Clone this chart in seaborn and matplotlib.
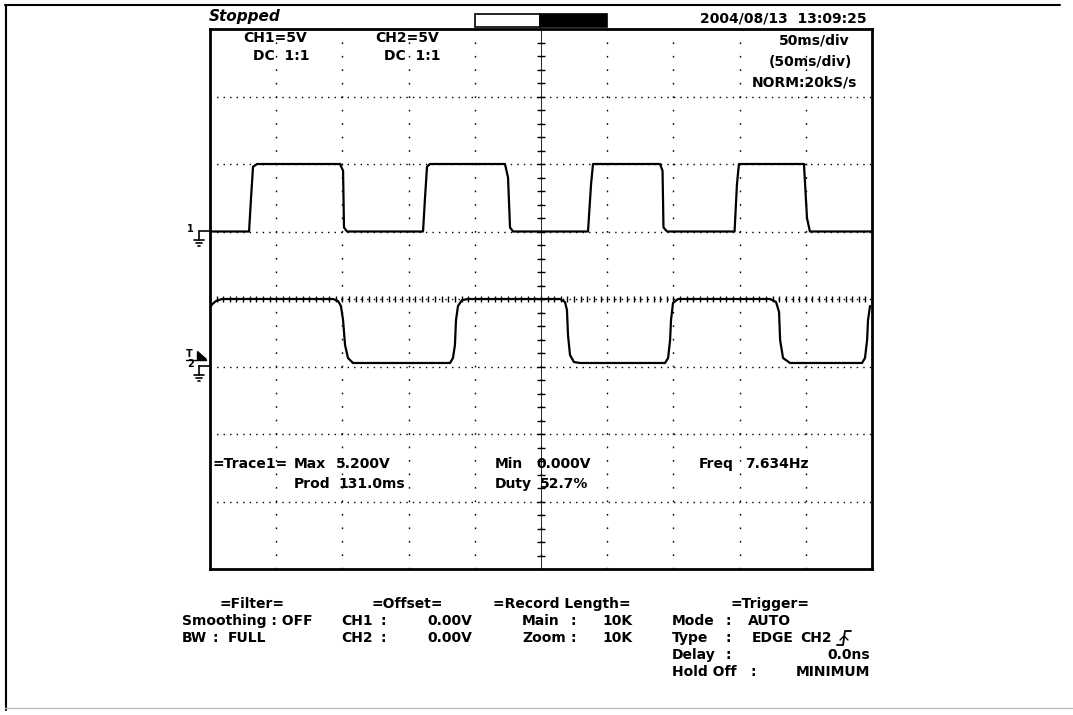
import matplotlib
matplotlib.use("Agg")
import matplotlib.pyplot as plt
from matplotlib.lines import Line2D
from matplotlib.patches import Rectangle, Polygon
import numpy as np
import seaborn as sns

# CH1 trace (time in ms, volts)
ch1_time = [0, 29.5, 31.0, 32.5, 35.5, 98.2, 100.5, 101.2, 103.5,
            160.9, 162.4, 163.9, 166.2, 222.8, 225.1, 226.6, 228.9,
            285.5, 287.8, 289.3, 339.9, 341.8, 342.5, 345.2,
            396.2, 398.0, 399.5, 448.6, 450.9, 453.1, 500]
ch1_volt = [0, 0, 2.5, 4.8, 5.0, 5.0, 4.5, 0.3, 0,
            0, 2.5, 4.8, 5.0, 5.0, 4.0, 0.3, 0,
            0, 3.5, 5.0, 5.0, 4.5, 0.3, 0,
            0, 3.5, 5.0, 5.0, 1.0, 0, 0]

# CH2 trace (slower, rounded edges)
ch2_time = [0, 1.5, 4.5, 9.1, 92.9, 96.7, 98.9, 100.5, 102.0, 104.2, 108.0,
            181.3, 183.5, 185.0, 185.8, 187.3, 190.3, 194.9,
            264.4, 268.1, 269.6, 270.4, 271.9, 274.9, 279.5,
            343.7, 346.0, 347.5, 348.2, 349.7, 353.5,
            423.0, 427.5, 429.8, 430.6, 432.8, 438.1,
            492.5, 494.7, 496.3, 497.0, 498.5]
ch2_volt = [4.33, 4.6, 4.85, 5.0, 5.0, 4.85, 4.48, 3.44, 1.59, 0.63, 0.26,
            0.26, 0.63, 1.59, 3.44, 4.48, 4.92, 5.0,
            5.0, 4.78, 4.19, 2.33, 0.85, 0.33, 0.26,
            0.26, 0.63, 1.96, 3.44, 4.70, 5.0,
            5.0, 4.78, 4.04, 1.96, 0.63, 0.26,
            0.26, 0.63, 1.96, 3.44, 4.48]

# screen texts: (text, x, y) in screen pixels
header_left = [("CH1=5V", 243, 38), ("DC  1:1", 253, 56), ("CH2=5V", 375, 38), ("DC  1:1", 384, 56)]
header_right = [("50ms/div", 850, 41), ("(50ms/div)", 852, 62), ("NORM:20kS/s", 857, 83)]
trace_texts = [("=Trace1=", 212, 464), ("Max", 294, 464), ("5.200V", 336, 464),
               ("Prod", 294, 484), ("131.0ms", 338, 484),
               ("Min", 495, 464), ("0.000V", 536, 464),
               ("Duty", 495, 484), ("52.7%", 540, 484),
               ("Freq", 699, 464), ("7.634Hz", 745, 464)]
footer_titles = [("=Filter=", 252), ("=Offset=", 407), ("=Record Length=", 562), ("=Trigger=", 770)]
r1, r2, r3, r4 = 621, 638, 655, 672
footer_words = [("Smoothing : OFF", 182, r1), ("BW", 182, r2), ("FULL", 228, r2),
                ("CH1", 341, r1), ("CH2", 341, r2), ("Main", 522, r1), ("Zoom", 522, r2),
                ("Mode", 672, r1), ("AUTO", 748, r1), ("Type", 672, r2), ("EDGE", 752, r2),
                ("CH2", 800, r2), ("Delay", 672, r3), ("Hold Off", 672, r4)]
footer_colons = [(215, r2), (383, r1), (383, r2), (573, r1), (573, r2),
                 (728, r1), (728, r2), (728, r3), (753, r4)]
footer_values = [("0.00V", 472, r1), ("0.00V", 472, r2), ("10K", 633, r1), ("10K", 633, r2),
                 ("0.0ns", 870, r3), ("MINIMUM", 870, r4)]

W, H = 1073, 715
FONT = dict(family="DejaVu Sans", fontweight="bold", fontsize=10, color="black")

sns.set_theme(style="white")
fig = plt.figure(figsize=(W / 100, H / 100), dpi=100)
fig.patch.set_facecolor("white")


def px(x, y):
    return x / W, 1 - y / H


def fig_line(xs, ys, lw=1.2, color="black"):
    fx = [x / W for x in xs]
    fy = [1 - y / H for y in ys]
    fig.add_artist(Line2D(fx, fy, lw=lw, color=color, transform=fig.transFigure))


def fig_text(s, x, y, ha="left", **kw):
    opts = dict(FONT)
    opts.update(kw)
    fig.text(*px(x, y), s, ha=ha, va="center", **opts)


# screen area: 10 x 8 divisions, 50 ms/div, 5 V/div
ax = fig.add_axes([210 / W, (H - 569) / H, 662 / W, 540 / H])
ax.set_xlim(0, 500)
ax.set_ylim(-25, 15)   # CH1 ground one division above centre
ax.set_facecolor("white")
for sp in ax.spines.values():
    sp.set_visible(True)
    sp.set_color("black")
    sp.set_linewidth(2)
ax.set_xticks(np.arange(50, 500, 50))
ax.set_yticks(np.arange(-20, 15, 5))
ax.tick_params(length=0, labelbottom=False, labelleft=False)
ax.xaxis.grid(True, color="black", lw=1.0, linestyle=(0, (1.2, 8.5)))
ax.yaxis.grid(True, color="black", lw=1.0, linestyle=(0, (1.0, 3.7)))

# centre graticule with minor ticks
ax.axvline(250, color="black", lw=0.6)
ax.plot(np.full(41, 250), np.arange(-25, 16, 1), ls="none", marker="_", ms=6, mew=1, color="black")
ax.plot(np.arange(0, 501, 5), np.full(101, -5), ls="none", marker="|", ms=5, mew=1, color="black")

sns.lineplot(x=ch1_time, y=ch1_volt, ax=ax, sort=False, estimator=None, color="black", lw=1.6)
ax.set_xlabel("")
ax.set_ylabel("")

ax2 = ax.twinx()
ax2.set_ylim(-15, 25)  # CH2 ground one division below centre
ax2.set_yticks([])
ax2.grid(False)
for sp in ax2.spines.values():
    sp.set_visible(False)
sns.lineplot(x=ch2_time, y=ch2_volt, ax=ax2, sort=False, estimator=None, color="black", lw=1.6)
ax2.set_ylabel("")

# outer frame of the printout
fig_line([5, 1060], [5, 5], lw=1.5)
fig_line([6, 6], [5, 710], lw=1.5)
fig_line([5, 1073], [708, 708], lw=1.0, color="#bbbbbb")

# status line
fig_text("Stopped", 209, 16, fontsize=11, fontstyle="italic")
fig.add_artist(Rectangle(px(475, 27), 65 / W, 13 / H, transform=fig.transFigure,
                         facecolor="white", edgecolor="black", lw=1.2))
fig.add_artist(Rectangle(px(540, 27), 67 / W, 13 / H, transform=fig.transFigure,
                         facecolor="black", edgecolor="black", lw=1.2))
fig_text("2004/08/13  13:09:25", 867, 18, ha="right")

for s, x, y in header_left:
    fig_text(s, x, y)
for s, x, y in header_right:
    fig_text(s, x, y, ha="right")
for s, x, y in trace_texts:
    fig_text(s, x, y)


# ground markers
def ground(label, y):
    fig_text(label, 187, y - 2, fontsize=7)
    fig_line([199, 210], [y, y])
    fig_line([199, 199], [y, y + 9])
    fig_line([194, 204], [y + 9, y + 9])
    fig_line([196, 202], [y + 12, y + 12])
    fig_line([198, 200], [y + 15, y + 15])


ground("1", 231)
ground("2", 366)
# trigger level marker
fig_text("T", 186, 354, fontsize=7)
fig.add_artist(Polygon([px(197, 351), px(197, 359), px(206, 359)], closed=True,
                       transform=fig.transFigure, facecolor="black", edgecolor="black"))
fig_line([186, 206], [360, 360], lw=1.0)

# settings block
for s, x in footer_titles:
    fig_text(s, x, 604, ha="center")
for s, x, y in footer_words:
    fig_text(s, x, y)
for x, y in footer_colons:
    fig_text(":", x, y, ha="center")
for s, x, y in footer_values:
    fig_text(s, x, y, ha="right")
# rising edge symbol
fig_line([837, 843, 845, 851], [645, 645, 631, 631], lw=1.3)
fig_line([840, 844, 848], [640, 636, 640], lw=1.0)

fig.savefig("out.png", dpi=100, facecolor="white")
